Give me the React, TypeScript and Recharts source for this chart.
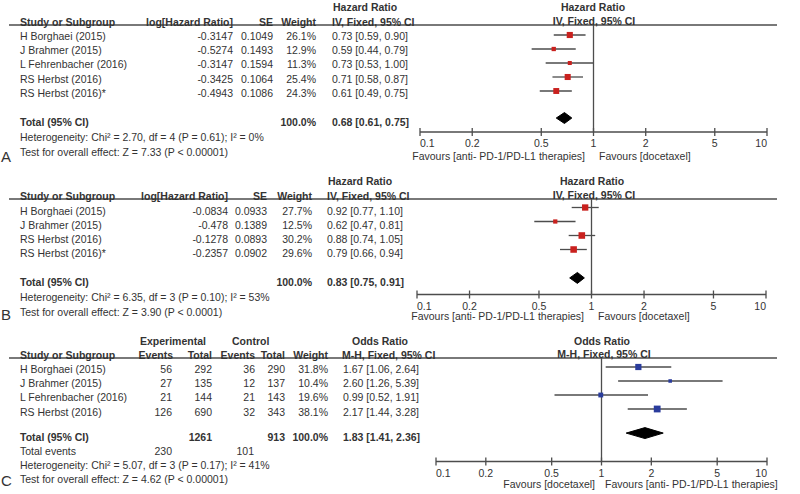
import React from "react";
import { ScatterChart, Scatter, XAxis, YAxis, ErrorBar, ReferenceLine } from "recharts";

const FONT = '"Liberation Sans", Arial, sans-serif';
const TEXT = "#333";
const LINE = "#4d4d4d";
const RED = "#c9211e";
const BLUE = "#2a3c9c";
const TICKS = [0.1, 0.2, 0.5, 1, 2, 5, 10];
const ROW = 14;

// A: overall survival
const studiesA = ["H Borghaei (2015)", "J Brahmer (2015)", "L Fehrenbacher (2016)", "RS Herbst (2016)", "RS Herbst (2016)*"];
const logHrA = ["-0.3147", "-0.5274", "-0.3147", "-0.3425", "-0.4943"];
const seA = ["0.1049", "0.1493", "0.1594", "0.1064", "0.1086"];
const weightA = [26.1, 12.9, 11.3, 25.4, 24.3];
const hrA = [0.73, 0.59, 0.73, 0.71, 0.61];
const loA = [0.59, 0.44, 0.53, 0.58, 0.49];
const hiA = [0.9, 0.79, 1.0, 0.87, 0.75];
const totalA = [0.68, 0.61, 0.75];
const hetA = "Heterogeneity: Chi² = 2.70, df = 4 (P = 0.61); I² = 0%";
const testA = "Test for overall effect: Z = 7.33 (P < 0.00001)";

// B: progression-free survival
const studiesB = ["H Borghaei (2015)", "J Brahmer (2015)", "RS Herbst (2016)", "RS Herbst (2016)*"];
const logHrB = ["-0.0834", "-0.478", "-0.1278", "-0.2357"];
const seB = ["0.0933", "0.1389", "0.0893", "0.0902"];
const weightB = [27.7, 12.5, 30.2, 29.6];
const hrB = [0.92, 0.62, 0.88, 0.79];
const loB = [0.77, 0.47, 0.74, 0.66];
const hiB = [1.1, 0.81, 1.05, 0.94];
const totalB = [0.83, 0.75, 0.91];
const hetB = "Heterogeneity: Chi² = 6.35, df = 3 (P = 0.10); I² = 53%";
const testB = "Test for overall effect: Z = 3.90 (P < 0.0001)";

// C: objective response
const studiesC = ["H Borghaei (2015)", "J Brahmer (2015)", "L Fehrenbacher (2016)", "RS Herbst (2016)"];
const expEvents = [56, 27, 21, 126];
const expTotal = [292, 135, 144, 690];
const ctlEvents = [36, 12, 21, 32];
const ctlTotal = [290, 137, 143, 343];
const weightC = [31.8, 10.4, 19.6, 38.1];
const orC = [1.67, 2.6, 0.99, 2.17];
const loC = [1.06, 1.26, 0.52, 1.44];
const hiC = [2.64, 5.39, 1.91, 3.28];
const totalC = [1.83, 1.41, 2.36];
const totalsC = [1261, 913];
const totalEventsC = [230, 101];
const hetC = "Heterogeneity: Chi² = 5.07, df = 3 (P = 0.17); I² = 41%";
const testC = "Test for overall effect: Z = 4.62 (P < 0.00001)";

const ci = (e: number, l: number, h: number) => `${e.toFixed(2)} [${l.toFixed(2)}, ${h.toFixed(2)}]`;

const points = (est: number[], lo: number[], hi: number[], w: number[]) =>
  est.map((e, i) => ({ x: e, y: i, w: w[i], err: [e - lo[i], hi[i] - e] }));

const diamond = (t: number[], row: number) => [
  { x: t[1], y: row },
  { x: t[0], y: row - 0.39 },
  { x: t[2], y: row },
  { x: t[0], y: row + 0.39 },
];

function LogTick(props: any) {
  const { x, y, payload } = props;
  const v = payload.value;
  const anchor = v === 0.1 ? "start" : v === 10 ? "end" : "middle";
  return (
    <g>
      <line x1={x} x2={x} y1={y - 4} y2={y + 4} stroke={LINE} strokeWidth={1.3} />
      <text x={x} y={y + 11} textAnchor={anchor} dominantBaseline="central" fontSize={10.5} fontFamily={FONT} fill={TEXT}>
        {String(v)}
      </text>
    </g>
  );
}

function ForestPlot(props: any) {
  const { top, axisY, left, right, rowOffset, data, total, totalRow, color, k } = props;
  const plotH = axisY - top;
  const h = plotH + 22;
  return (
    <div style={{ position: "absolute", left: 0, top, width: 800, height: h }}>
      <ScatterChart width={800} height={h} margin={{ top: 0, right: 800 - right, bottom: 0, left }}>
        <XAxis
          type="number"
          dataKey="x"
          scale="log"
          domain={[0.1, 10]}
          allowDataOverflow
          ticks={TICKS}
          interval={0}
          height={22}
          tickLine={false}
          tickSize={0}
          tickMargin={0}
          axisLine={{ stroke: LINE, strokeWidth: 1.3 }}
          tick={<LogTick />}
        />
        <YAxis
          type="number"
          dataKey="y"
          hide
          reversed
          allowDataOverflow
          domain={[-rowOffset / ROW, (plotH - rowOffset) / ROW]}
        />
        <ReferenceLine x={1} stroke={LINE} strokeWidth={1.3} />
        <Scatter
          data={data}
          isAnimationActive={false}
          shape={(p: any) => {
            const s = k * Math.sqrt(p.payload.w);
            return <rect x={p.cx - s / 2} y={p.cy - s / 2} width={s} height={s} fill={color} />;
          }}
        >
          <ErrorBar dataKey="err" direction="x" width={0} stroke={LINE} strokeWidth={1.3} />
        </Scatter>
        <Scatter
          data={diamond(total, totalRow)}
          isAnimationActive={false}
          shape={() => <g />}
          line={(p: any) => (
            <polygon points={p.points.map((q: any) => `${q.x},${q.y}`).join(" ")} fill="#000" stroke="#000" />
          )}
        />
      </ScatterChart>
    </div>
  );
}

function T({ x, y, a = "start", b = false, s = 10.5, children }: any) {
  return (
    <text x={x} y={y} textAnchor={a} dominantBaseline="central" fontSize={s} fontWeight={b ? "bold" : "normal"} fontFamily={FONT} fill={TEXT}>
      {children}
    </text>
  );
}

const RY = 14.2;

export default function App() {
  return (
    <div style={{ position: "absolute", left: 0, top: 0, width: 800, height: 494, background: "#fff" }}>
      <ForestPlot top={25} axisY={132} left={420} right={767} rowOffset={10} data={points(hrA, loA, hiA, weightA)} total={totalA} totalRow={5.93} color={RED} k={1.2} />
      <ForestPlot top={199} axisY={294.5} left={417} right={766} rowOffset={8.5} data={points(hrB, loB, hiB, weightB)} total={totalB} totalRow={5.03} color={RED} k={1.2} />
      <ForestPlot top={358} axisY={461.5} left={436} right={767} rowOffset={9} data={points(orC, loC, hiC, weightC)} total={totalC} totalRow={4.72} color={BLUE} k={1.1} />

      <svg width={800} height={494} style={{ position: "absolute", left: 0, top: 0, pointerEvents: "none" }}>
        {/* Panel A */}
        <line x1={9} x2={777} y1={25} y2={25} stroke={LINE} strokeWidth={1.3} />
        <T x={333} y={7} b>Hazard Ratio</T>
        <T x={593} y={7} a="middle" b>Hazard Ratio</T>
        <T x={594} y={20.5} a="middle" b>IV, Fixed, 95% CI</T>
        <T x={20} y={21.5} b>Study or Subgroup</T>
        <T x={233} y={21.5} a="end" b>log[Hazard Ratio]</T>
        <T x={273} y={21.5} a="end" b>SE</T>
        <T x={316} y={21.5} a="end" b>Weight</T>
        <T x={332} y={21.5} b>IV, Fixed, 95% CI</T>
        {studiesA.map((s, i) => (
          <g key={s}>
            <T x={20} y={36 + i * RY}>{s}</T>
            <T x={233} y={36 + i * RY} a="end">{logHrA[i]}</T>
            <T x={273} y={36 + i * RY} a="end">{seA[i]}</T>
            <T x={316} y={36 + i * RY} a="end">{weightA[i].toFixed(1)}%</T>
            <T x={332} y={36 + i * RY}>{ci(hrA[i], loA[i], hiA[i])}</T>
          </g>
        ))}
        <T x={20} y={121.5} b>Total (95% CI)</T>
        <T x={316} y={121.5} a="end" b>100.0%</T>
        <T x={332} y={121.5} b>{ci(totalA[0], totalA[1], totalA[2])}</T>
        <T x={20} y={136.5}>{hetA}</T>
        <T x={20} y={151.5}>{testA}</T>
        <T x={1} y={156} s={15}>A</T>
        <T x={585} y={155.5} a="end">Favours [anti- PD-1/PD-L1 therapies]</T>
        <T x={599} y={155.5}>Favours [docetaxel]</T>

        {/* Panel B */}
        <line x1={9} x2={777} y1={199} y2={199} stroke={LINE} strokeWidth={1.3} />
        <T x={328} y={180.5} b>Hazard Ratio</T>
        <T x={592} y={180.5} a="middle" b>Hazard Ratio</T>
        <T x={594} y={194.5} a="middle" b>IV, Fixed, 95% CI</T>
        <T x={20} y={195.5} b>Study or Subgroup</T>
        <T x={228} y={195.5} a="end" b>log[Hazard Ratio]</T>
        <T x={267} y={195.5} a="end" b>SE</T>
        <T x={312} y={195.5} a="end" b>Weight</T>
        <T x={327} y={195.5} b>IV, Fixed, 95% CI</T>
        {studiesB.map((s, i) => (
          <g key={s}>
            <T x={20} y={210.5 + i * RY}>{s}</T>
            <T x={228} y={210.5 + i * RY} a="end">{logHrB[i]}</T>
            <T x={267} y={210.5 + i * RY} a="end">{seB[i]}</T>
            <T x={312} y={210.5 + i * RY} a="end">{weightB[i].toFixed(1)}%</T>
            <T x={327} y={210.5 + i * RY}>{ci(hrB[i], loB[i], hiB[i])}</T>
          </g>
        ))}
        <T x={20} y={282} b>Total (95% CI)</T>
        <T x={312} y={282} a="end" b>100.0%</T>
        <T x={327} y={282} b>{ci(totalB[0], totalB[1], totalB[2])}</T>
        <T x={20} y={296.5}>{hetB}</T>
        <T x={20} y={311.5}>{testB}</T>
        <T x={1} y={314} s={15}>B</T>
        <T x={584} y={316} a="end">Favours [anti- PD-1/PD-L1 therapies]</T>
        <T x={598} y={316}>Favours [docetaxel]</T>

        {/* Panel C */}
        <line x1={9} x2={777} y1={358} y2={358} stroke={LINE} strokeWidth={1.3} />
        <T x={140} y={341} b>Experimental</T>
        <T x={232} y={341} b>Control</T>
        <T x={352} y={341} b>Odds Ratio</T>
        <T x={602} y={341} a="middle" b>Odds Ratio</T>
        <T x={604} y={354} a="middle" b>M-H, Fixed, 95% CI</T>
        <T x={20} y={354.5} b>Study or Subgroup</T>
        <T x={173} y={354.5} a="end" b>Events</T>
        <T x={212} y={354.5} a="end" b>Total</T>
        <T x={255} y={354.5} a="end" b>Events</T>
        <T x={285} y={354.5} a="end" b>Total</T>
        <T x={328} y={354.5} a="end" b>Weight</T>
        <T x={342} y={354.5} b>M-H, Fixed, 95% CI</T>
        {studiesC.map((s, i) => (
          <g key={s}>
            <T x={20} y={369 + i * RY}>{s}</T>
            <T x={172} y={369 + i * RY} a="end">{expEvents[i]}</T>
            <T x={212} y={369 + i * RY} a="end">{expTotal[i]}</T>
            <T x={255} y={369 + i * RY} a="end">{ctlEvents[i]}</T>
            <T x={285} y={369 + i * RY} a="end">{ctlTotal[i]}</T>
            <T x={328} y={369 + i * RY} a="end">{weightC[i].toFixed(1)}%</T>
            <T x={343} y={369 + i * RY}>{ci(orC[i], loC[i], hiC[i])}</T>
          </g>
        ))}
        <T x={20} y={437} b>Total (95% CI)</T>
        <T x={212} y={437} a="end" b>{totalsC[0]}</T>
        <T x={285} y={437} a="end" b>{totalsC[1]}</T>
        <T x={328} y={437} a="end" b>100.0%</T>
        <T x={343} y={437} b>{ci(totalC[0], totalC[1], totalC[2])}</T>
        <T x={20} y={451}>Total events</T>
        <T x={172} y={451} a="end">{totalEventsC[0]}</T>
        <T x={254} y={451} a="end">{totalEventsC[1]}</T>
        <T x={20} y={465}>{hetC}</T>
        <T x={20} y={479}>{testC}</T>
        <T x={1} y={480} s={15}>C</T>
        <T x={595} y={484} a="end">Favours [docetaxel]</T>
        <T x={605} y={484}>Favours [anti- PD-1/PD-L1 therapies]</T>
      </svg>
    </div>
  );
}
